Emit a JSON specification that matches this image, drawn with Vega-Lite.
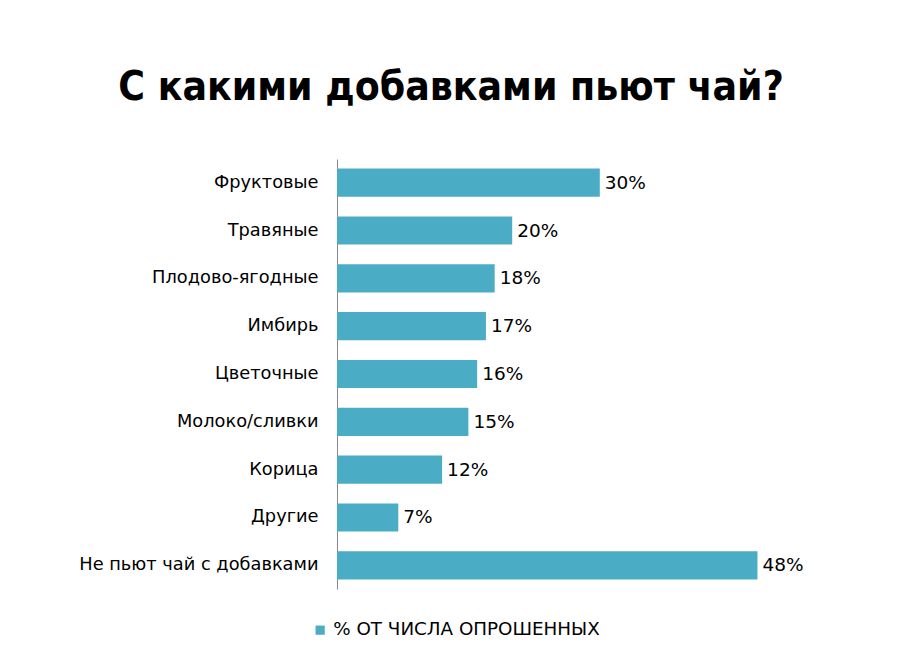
{
  "$schema": "https://vega.github.io/schema/vega-lite/v6.json",
  "width": 438,
  "height": 430,
  "autosize": {"type": "none"},
  "padding": {"left": 337, "top": 159, "right": 128, "bottom": 75},
  "background": "white",
  "title": {
    "text": "С какими добавками пьют чай?",
    "font": "DejaVu Sans Condensed",
    "fontSize": 40.5,
    "fontWeight": "bold",
    "color": "#000000",
    "anchor": "middle",
    "frame": "group",
    "dx": -105,
    "offset": 51
  },
  "data": {
    "values": [
      {"category": "Фруктовые", "value": 0.30, "series": "% ОТ ЧИСЛА ОПРОШЕННЫХ"},
      {"category": "Травяные", "value": 0.20, "series": "% ОТ ЧИСЛА ОПРОШЕННЫХ"},
      {"category": "Плодово-ягодные", "value": 0.18, "series": "% ОТ ЧИСЛА ОПРОШЕННЫХ"},
      {"category": "Имбирь", "value": 0.17, "series": "% ОТ ЧИСЛА ОПРОШЕННЫХ"},
      {"category": "Цветочные", "value": 0.16, "series": "% ОТ ЧИСЛА ОПРОШЕННЫХ"},
      {"category": "Молоко/сливки", "value": 0.15, "series": "% ОТ ЧИСЛА ОПРОШЕННЫХ"},
      {"category": "Корица", "value": 0.12, "series": "% ОТ ЧИСЛА ОПРОШЕННЫХ"},
      {"category": "Другие", "value": 0.07, "series": "% ОТ ЧИСЛА ОПРОШЕННЫХ"},
      {"category": "Не пьют чай с добавками", "value": 0.48, "series": "% ОТ ЧИСЛА ОПРОШЕННЫХ"}
    ]
  },
  "encoding": {
    "y": {
      "field": "category",
      "type": "nominal",
      "sort": null,
      "scale": {"paddingInner": 0.41, "paddingOuter": 0.2},
      "axis": {
        "title": null,
        "ticks": false,
        "labelPadding": 19,
        "labelLimit": 400,
        "labelFont": "DejaVu Sans",
        "labelFontSize": 17.8,
        "labelColor": "#000000",
        "domainColor": "#888888",
        "domainWidth": 1
      }
    },
    "x": {
      "field": "value",
      "type": "quantitative",
      "scale": {"domain": [0, 0.5], "nice": false},
      "axis": null
    }
  },
  "layer": [
    {
      "mark": {"type": "bar"},
      "encoding": {
        "color": {
          "field": "series",
          "type": "nominal",
          "scale": {"range": ["#4BACC6"]},
          "legend": {
            "title": null,
            "orient": "none",
            "legendX": -26,
            "legendY": 462,
            "symbolType": "square",
            "symbolSize": 85,
            "labelFont": "DejaVu Sans",
            "labelFontSize": 18.3,
            "labelColor": "#000000",
            "labelLimit": 400
          }
        }
      }
    },
    {
      "mark": {
        "type": "text",
        "align": "left",
        "baseline": "middle",
        "dx": 5,
        "font": "DejaVu Sans",
        "fontSize": 18.5,
        "color": "#000000"
      },
      "encoding": {
        "text": {"field": "value", "type": "quantitative", "format": ".0%"}
      }
    }
  ],
  "config": {"view": {"stroke": null}}
}
